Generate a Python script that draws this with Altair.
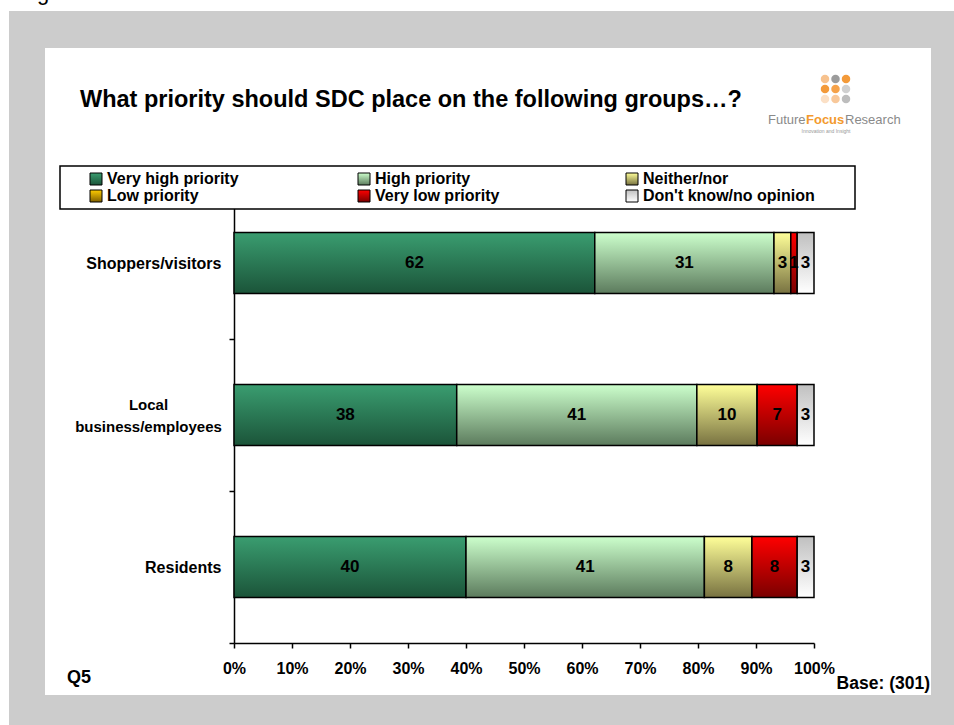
import altair as alt
import pandas as pd

# ---------------- data ----------------
groups = ["Shoppers/visitors", "Local\nbusiness/employees", "Residents"]
responses = ["Very high priority", "High priority", "Neither/nor",
             "Low priority", "Very low priority", "Don't know/no opinion"]
very_high = [62.2, 38.4, 40.0]
high = [30.9, 41.4, 41.1]
neither = [2.9, 10.4, 8.2]
low = [0.0, 0.0, 0.0]
very_low = [1.1, 6.9, 7.8]
dont_know = [2.9, 2.9, 2.9]
series = [very_high, high, neither, low, very_low, dont_know]
x_ticks = [0, 10, 20, 30, 40, 50, 60, 70, 80, 90, 100]

grad_top = ["#3a9d70", "#ccffcc", "#ffff99", "#ffcc00", "#ff0000", "#c0c0c0"]
grad_bottom = ["#1b5439", "#5c7b5d", "#787241", "#806000", "#7a0000", "#ffffff"]

rows = []
for gi, g in enumerate(groups):
    start = 0.0
    for ri, r in enumerate(responses):
        v = series[ri][gi]
        rows.append(dict(group=g, response=r, order=ri, value=v, start=start,
                         end=start + v, mid=start + v / 2,
                         label=str(int(round(v))) if v > 0 else ""))
        start += v
df = pd.DataFrame(rows)

# ---------------- layout ----------------
W, H = 580, 456
L, T = 234, 187
FONT = "Liberation Sans"


def px(x):
    return x - L


def py(y):
    return y - T


one = pd.DataFrame({"k": [0]})


def rect(x1, x2, y1, y2, fill, stroke=None, sw=0):
    kw = dict(fill=fill)
    if stroke:
        kw.update(stroke=stroke, strokeWidth=sw)
    return alt.Chart(one).mark_rect(**kw).encode(
        x=alt.value(px(x1)), x2=alt.value(px(x2)),
        y=alt.value(py(y1)), y2=alt.value(py(y2)))


def label(text, x, y, size, color="black", weight="bold", align="left",
          baseline="alphabetic", font=FONT):
    return alt.Chart(one).mark_text(
        text=text, fontSize=size, fontWeight=weight, color=color, align=align,
        baseline=baseline, font=font).encode(x=alt.value(px(x)), y=alt.value(py(y)))


def grad(top, bottom):
    return {"expr": "{gradient: 'linear', x1: 0, y1: 0, x2: 0, y2: 1, "
                    "stops: [{offset: 0, color: '%s'}, {offset: 1, color: '%s'}]}"
                    % (top, bottom)}


frame = [
    rect(9, 954, 11, 48, "#cccccc"),
    rect(9, 45, 11, 725, "#cccccc"),
    rect(931, 954, 11, 725, "#cccccc"),
    rect(9, 954, 695, 725, "#cccccc"),
    rect(60, 855, 166, 209, "white", "black", 1.5),
]

color_scale = alt.Scale(domain=responses,
                        range=[grad(t, b) for t, b in zip(grad_top, grad_bottom)])

multi = "length(split(datum.value, '\\n')) > 1"

bars = alt.Chart(df).mark_bar(stroke="black", strokeWidth=1.5,
                              height={"band": 0.4}).encode(
    x=alt.X("start:Q", scale=alt.Scale(domain=[0, 100], nice=False),
            axis=alt.Axis(title=None, values=x_ticks, labelExpr="datum.value + '%'",
                          grid=False, tickSize=5, labelPadding=12, labelFontSize=16,
                          labelFont=FONT, labelFontWeight="bold", labelColor="black",
                          domainColor="black", tickColor="black", domainWidth=1.5,
                          tickWidth=1.5, labelFlush=False, labelOverlap=False)),
    x2="end:Q",
    y=alt.Y("group:N", sort=groups,
            scale=alt.Scale(paddingInner=0, paddingOuter=0),
            axis=alt.Axis(title=None, tickBand="extent", tickSize=5,
                          labelPadding={"condition": {"test": multi, "value": 81},
                                        "value": 8},
                          labelAlign={"condition": {"test": multi, "value": "center"},
                                      "value": "right"},
                          labelFontSize={"condition": {"test": multi, "value": 15},
                                         "value": 16},
                          labelExpr="split(datum.label, '\\n')",
                          labelOffset={"condition": {"test": multi, "value": -11},
                                       "value": 0},
                          labelFont=FONT, labelFontWeight="bold", labelColor="black",
                          labelLineHeight=22, domainColor="black", tickColor="black",
                          domainWidth=1.5, tickWidth=1.5, labelLimit=300)),
    color=alt.Color("response:N", scale=color_scale, sort=responses,
                    legend=alt.Legend(title=None, orient="none", legendX=px(88),
                                      legendY=py(171), columns=3, gridAlign="all",
                                      direction="horizontal",
                                      columnPadding=77, rowPadding=1,
                                      symbolType="square", symbolSize=144,
                                      symbolStrokeColor="black", symbolStrokeWidth=1,
                                      symbolOpacity=1, labelFont=FONT, labelFontSize=16,
                                      labelFontWeight="bold", labelColor="black",
                                      labelOffset=3, padding=0, labelLimit=400)),
    order=alt.Order("order:Q"),
)

texts = alt.Chart(df).transform_filter("datum.label != ''").mark_text(
    font=FONT, fontSize=17, fontWeight="bold", color="black", baseline="middle",
    align="center").encode(
    x=alt.X("mid:Q"), y=alt.Y("group:N", sort=groups), text="label:N")

# decorations: title, logo, footnotes
deco = [
    label("g", 37, 0, 22, weight="normal"),
    label("What priority should SDC place on the following groups\u2026?", 80, 107, 23.5),
    label("Future", 768, 124, 13, color="#8a8a8a", weight="normal"),
    label("Focus", 806, 124, 13, color="#f39a2e", weight="bold"),
    label("Research", 845, 124, 13, color="#8a8a8a", weight="normal"),
    label("Innovation and Insight", 826, 133, 5, color="#999999", weight="normal",
          align="center"),
    label("Q5", 67, 683, 18),
    label("Base: (301)", 930, 689, 17.5, align="right"),
]
dot_colors = [("#f7c28e", 0, 0), ("#9c9c9c", 1, 0), ("#f39a3a", 2, 0),
              ("#f39a3a", 0, 1), ("#f5a24a", 1, 1), ("#d0d0d0", 2, 1),
              ("#fbe0c6", 0, 2), ("#f8c89a", 1, 2), ("#bdbdbd", 2, 2)]
for c, i, j in dot_colors:
    deco.append(alt.Chart(one).mark_point(filled=True, shape="circle", size=72,
                                          color=c, opacity=1).encode(
        x=alt.value(px(825 + 10.5 * i)), y=alt.value(py(79 + 10 * j))))

chart = alt.layer(*frame, bars, texts, *deco).properties(
    width=W, height=H,
    autosize=alt.AutoSizeParams(type="none"),
    padding={"left": L, "top": T, "right": 954 - L - W, "bottom": 725 - T - H},
).configure(background="white").configure_view(stroke=None)

chart.save("out.html", embed_options={"renderer": "svg", "actions": False})
